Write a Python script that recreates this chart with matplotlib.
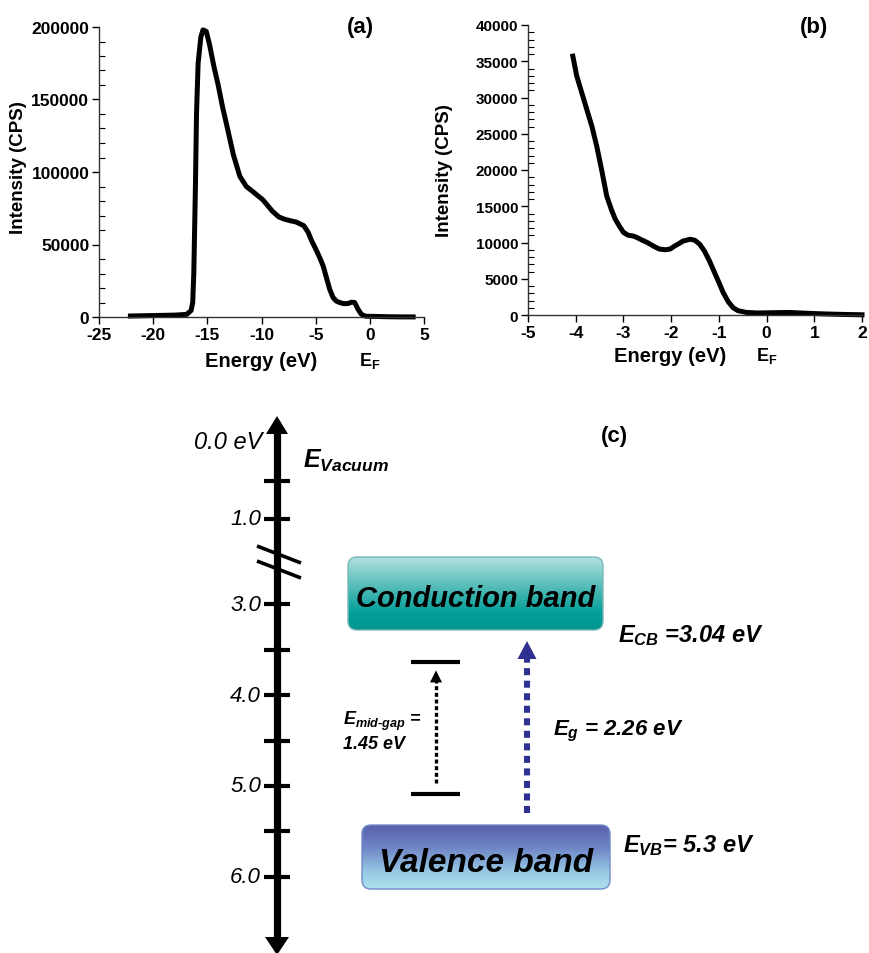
import matplotlib.pyplot as plt
import numpy as np
from matplotlib.patches import FancyBboxPatch, Polygon
from matplotlib.colors import to_rgb

# Arial-like fonts, bold by default; math text in bold / bold italic
plt.rcParams['font.family'] = ['Liberation Sans', 'DejaVu Sans']
plt.rcParams['font.weight'] = 'bold'
plt.rcParams['mathtext.fontset'] = 'custom'
plt.rcParams['mathtext.rm'] = 'Liberation Sans:bold'
plt.rcParams['mathtext.it'] = 'Liberation Sans:italic:bold'
plt.rcParams['mathtext.bf'] = 'Liberation Sans:bold'
plt.rcParams['axes.unicode_minus'] = False
plt.rcParams['axes.linewidth'] = 1.0
plt.rcParams['axes.edgecolor'] = '#333333'

# (a) full UPS spectrum
energy_a = [-22.1, -20, -18, -16.9, -16.5, -16.35, -16.25, -16.1, -16.0, -15.85,
            -15.6, -15.4, -15.1, -14.8, -14.4, -14.0, -13.6, -13.2, -12.6, -12.0,
            -11.4, -10.8, -10.4, -9.9, -9.5, -9.0, -8.4, -7.9, -7.4, -6.8,
            -6.1, -5.7, -5.4, -5.0, -4.6, -4.3, -4.0, -3.7, -3.4, -3.1,
            -2.8, -2.4, -2.0, -1.7, -1.4, -1.1, -0.8, -0.5, -0.3, 0.5,
            1.5, 2.5, 4.0]
counts_a = [700, 1000, 1300, 1800, 4500, 10000, 30000, 90000, 140000, 175000,
            193000, 198000, 197000, 188000, 173000, 160000, 145000, 132000, 112000, 97000,
            90000, 86500, 84000, 81000, 77500, 73000, 69000, 67500, 66500, 65500,
            63000, 58500, 53000, 47000, 40500, 35000, 27000, 19000, 13500, 11000,
            10000, 9200, 9300, 10200, 10000, 5500, 2000, 800, 500, 400,
            200, 100, 50]

# (b) valence band edge region
energy_b = [-4.06, -3.98, -3.88, -3.77, -3.66, -3.56, -3.45, -3.35, -3.25, -3.17,
            -3.08, -3.0, -2.9, -2.8, -2.72, -2.6, -2.5, -2.37, -2.25, -2.12,
            -2.02, -1.93, -1.85, -1.75, -1.6, -1.5, -1.4, -1.3, -1.2, -1.12,
            -1.02, -0.91, -0.8, -0.7, -0.6, -0.42, -0.2, 0.0, 0.25, 0.49,
            0.8, 1.2, 1.6, 2.0]
counts_b = [35700, 33000, 30800, 28400, 26000, 23300, 19800, 16400, 14500, 13200,
            12200, 11400, 11000, 10900, 10700, 10300, 10000, 9500, 9100, 9000,
            9100, 9500, 9800, 10200, 10450, 10300, 9750, 8800, 7500, 6300,
            4800, 3100, 1800, 1000, 600, 350, 280, 300, 330, 350,
            250, 150, 80, 30]

# (c) band diagram values (eV below vacuum)
scale_upper = [0.5, 1.0]
scale_lower = [3.0, 3.5, 4.0, 4.5, 5.0, 5.5, 6.0]
scale_labels = {1.0: '1.0', 3.0: '3.0', 4.0: '4.0', 5.0: '5.0', 6.0: '6.0'}
E_CB = 3.04
E_VB = 5.3
E_g = 2.26
E_midgap = 1.45
midgap_top = 3.64

W, H = 869, 954
fig = plt.figure(figsize=(W / 100, H / 100), dpi=100)

# canvas for the schematic, in pixel units (y downwards)
axc = fig.add_axes([0, 0, 1, 1])
axc.set_xlim(0, W)
axc.set_ylim(H, 0)
axc.axis('off')


def add_px_axes(left, top, right, bottom):
    return fig.add_axes([left / W, 1 - bottom / H, (right - left) / W, (bottom - top) / H])


def spectrum(ax, x, y, xlim, xticks, ylim, yticks, yminor, ysize, xlab_x, xlab_off, ylab_y, ylab_off):
    ax.plot(x, y, color='black', lw=3.6, solid_joinstyle='round', clip_on=False)
    ax.spines[['top', 'right']].set_visible(False)
    ax.set_xlim(*xlim)
    ax.set_ylim(*ylim)
    ax.set_xticks(xticks)
    ax.set_yticks(yticks)
    ax.set_yticks(yminor, minor=True)
    ax.tick_params(which='major', direction='out', length=5, width=1, pad=2)
    ax.tick_params(axis='y', which='minor', direction='in', length=4, width=0.8)
    ax.tick_params(axis='x', labelsize=12.5)
    ax.tick_params(axis='y', labelsize=ysize)
    ax.patch.set_alpha(0)
    ax.annotate('Energy (eV)', xy=(xlab_x, 0), xycoords='axes fraction', xytext=(0, -xlab_off),
                textcoords='offset points', ha='center', va='center', fontsize=14.5)
    ax.annotate('Intensity (CPS)', xy=(0, ylab_y), xycoords='axes fraction', xytext=(-ylab_off, 0),
                textcoords='offset points', ha='center', va='center', rotation=90, fontsize=13.5)
    ax.annotate(r'$\mathrm{E_F}$', xy=(0, 0), xycoords=('data', 'axes fraction'), xytext=(0, -xlab_off),
                textcoords='offset points', ha='center', va='center', fontsize=13)


axa = add_px_axes(99, 28, 424, 318)
spectrum(axa, energy_a, counts_a, (-25, 5), np.arange(-25, 6, 5), (0, 200000),
         np.arange(0, 200001, 50000), np.arange(0, 200001, 10000), 12.5, 0.5, 31, 0.52, 58)

axb = add_px_axes(528, 26, 862, 316)
spectrum(axb, energy_b, counts_b, (-5, 2), np.arange(-5, 3, 1), (0, 40000),
         np.arange(0, 40001, 5000), np.arange(0, 40001, 1000), 11, 0.425, 29, 0.5, 60)

axc.text(360, 28, '(a)', ha='center', va='center', fontsize=16)
axc.text(814, 28, '(b)', ha='center', va='center', fontsize=16)
axc.text(614, 437, '(c)', ha='center', va='center', fontsize=16)


# energy scale of the schematic: compressed above the break, linear below
def y_of(e):
    if e <= 1.5:
        return 443 + 77 * e
    return 741.5 + 90.8 * (e - 4.5)


axis_x = 277
head_len, head_half = 18, 11
top_tip, bottom_tip = 417, 956
axc.plot([axis_x, axis_x], [top_tip + head_len - 1, bottom_tip - head_len + 1], color='black', lw=5.2,
         solid_capstyle='butt')
axc.add_patch(Polygon([[axis_x, top_tip], [axis_x - head_half, top_tip + head_len],
                       [axis_x + head_half, top_tip + head_len]], closed=True, color='black', lw=0))
axc.add_patch(Polygon([[axis_x, bottom_tip], [axis_x - head_half - 1, bottom_tip - head_len],
                       [axis_x + head_half + 1, bottom_tip - head_len]], closed=True, color='black', lw=0))

for e in scale_upper + scale_lower:
    yy = y_of(e)
    axc.plot([axis_x - 13, axis_x + 13], [yy, yy], color='black', lw=3, solid_capstyle='butt')
    if e in scale_labels:
        axc.text(261, yy, scale_labels[e], ha='right', va='center', fontsize=16,
                 style='italic', fontweight='normal')
axc.text(262, y_of(0.0), '0.0 eV', ha='right', va='center', fontsize=17, style='italic', fontweight='normal')

# axis break marks
for dy in (0, 15):
    axc.plot([257, 301], [547 + dy, 564 + dy], color='black', lw=2.6, solid_capstyle='butt')

axc.text(303, 468, r'$E_{Vacuum}$', ha='left', va='baseline', fontsize=18)


def gradient_box(x0, y0, w, h, stops, edge, label, size, base):
    patch = FancyBboxPatch((x0, y0), w, h, boxstyle='round,pad=0,rounding_size=9',
                           facecolor='none', edgecolor=edge, lw=1.0, zorder=3)
    axc.add_patch(patch)
    pos = [s[0] for s in stops]
    cols = np.array([to_rgb(s[1]) for s in stops])
    t = np.linspace(0, 1, 256)
    img = np.stack([np.interp(t, pos, cols[:, k]) for k in range(3)], axis=-1)[:, None, :]
    im = axc.imshow(img, extent=(x0, x0 + w, y0 + h, y0), origin='upper', aspect='auto', zorder=2)
    im.set_clip_path(patch)
    axc.text(x0 + w / 2, base, label, ha='center', va='baseline', fontsize=size, style='italic', zorder=4)


gradient_box(348, 558, 255, 73, [(0, '#b2e0e1'), (0.45, '#4bb8b4'), (0.75, '#05a19b'), (1, '#00968f')],
             '#7ab7b5', 'Conduction band', 21, 607)
gradient_box(362, 826, 248, 64, [(0, '#5860ad'), (0.35, '#6f85c6'), (0.75, '#98cbe6'), (1, '#aee0ec')],
             '#6f8cc8', 'Valence band', 24, 872)
axc.set_xlim(0, W)
axc.set_ylim(H, 0)

axc.text(618, 642, r'$E_{CB}$ =3.04 eV', ha='left', va='baseline', fontsize=17, style='italic')
axc.text(623, 852, r'$E_{VB}$= 5.3 eV', ha='left', va='baseline', fontsize=17, style='italic')
axc.text(553, 735, r'$E_{g}$ = %.2f eV' % E_g, ha='left', va='baseline', fontsize=16, style='italic')

# mid-gap state levels and transition
y_mt = y_of(midgap_top)
y_mb = y_of(midgap_top + E_midgap)
for yy in (y_mt, y_mb):
    axc.plot([411, 460], [yy, yy], color='black', lw=3, solid_capstyle='butt')
mx = 436
axc.plot([mx, mx], [y_mb - 11, y_mt + 19], color='black', lw=2.4, linestyle=(0, (1.2, 0.8)),
         dash_capstyle='butt')
axc.add_patch(Polygon([[mx, y_mt + 8], [mx - 6, y_mt + 20], [mx + 6, y_mt + 20]], closed=True,
                      color='black', lw=0))
axc.text(343, 725, r'$E_{mid\text{-}gap}$ =', ha='left', va='baseline', fontsize=13, style='italic')
axc.text(343, 749, '%.2f eV' % E_midgap, ha='left', va='baseline', fontsize=13, style='italic')

# band gap transition from the valence band edge
gx = 527
g_tip = 642
axc.plot([gx, gx], [y_of(E_VB), g_tip + 17], color='#2e3192', lw=4.4, linestyle=(0, (1.15, 0.9)),
         dash_capstyle='butt')
axc.add_patch(Polygon([[gx, g_tip], [gx - 9.5, g_tip + 18], [gx + 9.5, g_tip + 18]], closed=True,
                      color='#2e3192', lw=0))

fig.savefig('out.png', dpi=100)
